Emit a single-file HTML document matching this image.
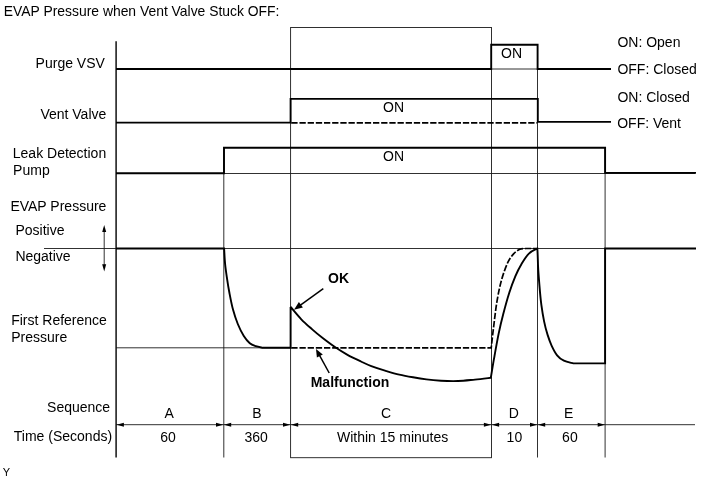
<!DOCTYPE html>
<html>
<head>
<meta charset="utf-8">
<title>EVAP Pressure when Vent Valve Stuck OFF</title>
<style>
html,body{margin:0;padding:0;background:#fff;}
body{width:711px;height:479px;overflow:hidden;}
svg{display:block;}
text{font-family:"Liberation Sans",Arial,Helvetica,sans-serif;font-size:14px;fill:#000;}
.b{font-weight:bold;}
.thin{stroke:#1a1a1a;stroke-width:0.9;fill:none;}
.thick{stroke:#000;stroke-width:1.9;fill:none;stroke-linejoin:miter;stroke-miterlimit:2;}
.arr{stroke:#000;stroke-width:1.5;fill:none;}
.dash{stroke:#000;stroke-width:1.7;fill:none;stroke-dasharray:6.3 1.87;}
</style>
</head>
<body>
<svg width="711" height="479" viewBox="0 0 711 479">
<rect x="0" y="0" width="711" height="479" fill="#fff"/>


<!-- thin guide lines -->
<g class="thin">
<rect x="290.6" y="27.5" width="200.9" height="430.2"/>
<line x1="223.8" y1="147" x2="223.8" y2="457.5"/>
<line x1="537.5" y1="45" x2="537.5" y2="457.5"/>
<line x1="605.1" y1="147" x2="605.1" y2="457.5"/>
<line x1="44" y1="248.5" x2="695" y2="248.5"/>
<line x1="116" y1="347.8" x2="290" y2="347.8"/>
<line x1="116" y1="173.5" x2="695" y2="173.5"/>
<line x1="116" y1="69" x2="611" y2="69"/>
<line x1="116" y1="424.7" x2="695" y2="424.7"/>
<line x1="104.2" y1="228" x2="104.2" y2="268"/>
</g>

<!-- vertical axis -->
<line x1="116.1" y1="41.2" x2="116.1" y2="457.5" stroke="#111" stroke-width="1.5"/>

<!-- Purge VSV -->
<path class="thick" d="M116,69 H491.2 V44.8 H537.6 V69 H611"/>
<!-- Vent Valve -->
<path class="thick" d="M116,122.6 H290.6 V98.9 H537.8 V121.9 H611"/>
<path class="dash" d="M291.3,122.9 H537"/>
<!-- Leak Detection Pump -->
<path class="thick" d="M116,173.2 H224 V147.7 H605.1 V172.9 H696"/>

<!-- EVAP Pressure curves -->
<path class="thick" d="M116,248.5 H224.1 C224.3,251.1 224.6,259.0 225.1,264.0 C225.6,269.0 226.3,273.6 227.0,278.4 C227.7,283.2 228.4,287.6 229.4,292.8 C230.4,298.0 231.6,304.4 233.0,309.6 C234.4,314.8 236.0,319.6 237.8,324.0 C239.6,328.4 241.8,332.8 243.8,336.0 C245.8,339.2 247.8,341.5 249.8,343.2 C251.8,344.9 253.6,345.4 255.8,346.2 C258.0,347.0 261.8,347.5 263.0,347.8 H290.6 V306.9 C292.4,309.0 297.7,315.6 301.3,319.3 C304.9,323.1 308.6,326.2 312.2,329.4 C315.8,332.6 319.1,335.3 323.0,338.3 C326.9,341.3 331.2,344.6 335.3,347.3 C339.4,350.1 343.2,352.4 347.5,354.8 C351.8,357.2 357.0,359.6 361.0,361.5 C365.0,363.4 367.3,364.6 371.3,366.1 C375.3,367.6 380.3,369.2 385.0,370.6 C389.7,372.0 394.6,373.5 399.3,374.6 C404.0,375.7 408.5,376.5 413.0,377.3 C417.5,378.1 421.7,378.8 426.4,379.4 C431.1,380.0 435.7,380.4 441.0,380.7 C446.3,381.0 452.3,381.2 458.0,381.0 C463.7,380.8 469.5,380.1 475.0,379.6 C480.5,379.1 488.2,378.1 490.8,377.8 C491.4,374.5 492.8,365.5 494.1,358.2 C495.4,350.9 497.1,341.2 498.6,333.9 C500.1,326.6 501.4,321.0 503.2,314.2 C505.0,307.4 507.2,299.3 509.2,293.0 C511.2,286.7 513.3,281.2 515.3,276.4 C517.3,271.6 519.1,268.0 521.4,264.2 C523.7,260.4 526.2,256.2 528.9,253.6 C531.5,251.0 535.9,249.3 537.3,248.5 C537.7,251.6 537.8,260.8 538.1,267.1 C538.4,273.4 539.0,279.8 539.5,286.1 C540.0,292.4 540.6,299.2 541.4,305.1 C542.2,311.0 543.1,316.4 544.1,321.4 C545.1,326.4 546.3,330.8 547.6,334.9 C548.9,339.0 550.1,342.4 551.7,345.8 C553.3,349.2 555.1,352.8 557.1,355.3 C559.1,357.8 561.2,359.4 563.9,360.7 C566.6,362.0 571.8,362.9 573.4,363.4 H605.1 V248.5 H696"/>
<path class="dash" d="M291.3,347.8 H491.2 C491.6,344.5 492.5,335.8 493.5,327.9 C494.5,320.0 495.7,308.7 497.1,300.6 C498.5,292.5 499.9,285.7 501.7,279.4 C503.5,273.1 505.7,267.0 507.7,262.7 C509.7,258.4 511.8,255.8 513.8,253.6 C515.8,251.4 517.8,250.2 519.8,249.3 C521.8,248.5 524.9,248.6 525.9,248.5 H537"/>

<!-- positive / negative arrow heads -->
<path d="M104.2,224.9 L106.2,232 H102.2 Z" fill="#000"/>
<path d="M104.2,271.4 L106.2,264.3 H102.2 Z" fill="#000"/>

<!-- sequence arrow heads -->
<g fill="#000"><path d="M116.6,424.7 l7.3,-2 v4 z"/><path d="M223.3,424.7 l-7.3,-2 v4 z"/><path d="M223.9,424.7 l7.3,-2 v4 z"/><path d="M290.3,424.7 l-7.3,-2 v4 z"/><path d="M290.9,424.7 l7.3,-2 v4 z"/><path d="M491.2,424.7 l-7.3,-2 v4 z"/><path d="M491.8,424.7 l7.3,-2 v4 z"/><path d="M537.3,424.7 l-7.3,-2 v4 z"/><path d="M537.9,424.7 l7.3,-2 v4 z"/><path d="M605.0,424.7 l-7.3,-2 v4 z"/></g>

<!-- OK / Malfunction pointers -->
<line class="arr" x1="323.3" y1="288.7" x2="300.1" y2="305.3"/><path d="M294.0,309.7 L298.9,302.0 L302.9,307.5 Z" fill="#000"/>
<line class="arr" x1="329.2" y1="373.0" x2="319.4" y2="355.1"/><path d="M316.0,349.0 L322.8,354.4 L316.9,357.6 Z" fill="#000"/>

<!-- labels -->
<text x="3.8" y="15.9" style="font-size:13.9px">EVAP Pressure when Vent Valve Stuck OFF:</text>
<text x="35.6" y="67.7">Purge VSV</text>
<text x="40.4" y="118.7">Vent Valve</text>
<text x="12.8" y="157.8">Leak Detection</text>
<text x="13.1" y="174.6">Pump</text>
<text x="10.4" y="210.5">EVAP Pressure</text>
<text x="15.5" y="234.7">Positive</text>
<text x="15.4" y="261.3">Negative</text>
<text x="11.2" y="324.9">First Reference</text>
<text x="11.2" y="341.8">Pressure</text>
<text x="47.1" y="411.9">Sequence</text>
<text x="13.8" y="440.9">Time (Seconds)</text>
<text x="617.4" y="47.2">ON: Open</text>
<text x="617.4" y="73.6">OFF: Closed</text>
<text x="617.4" y="101.6">ON: Closed</text>
<text x="617.2" y="127.6">OFF: Vent</text>
<text x="501.1" y="57.7">ON</text>
<text x="383.0" y="111.9">ON</text>
<text x="383.0" y="161.0">ON</text>
<text x="328.1" y="282.7" style="font-weight:bold">OK</text>
<text x="310.7" y="386.7" style="font-weight:bold">Malfunction</text>
<text x="164.5" y="417.7">A</text>
<text x="252.3" y="417.7">B</text>
<text x="381.1" y="417.7">C</text>
<text x="508.7" y="417.7">D</text>
<text x="564.1" y="417.7">E</text>
<text x="160.2" y="441.8">60</text>
<text x="244.4" y="441.8">360</text>
<text x="337.0" y="441.8">Within 15 minutes</text>
<text x="506.6" y="441.8">10</text>
<text x="562.1" y="441.8">60</text>
<text x="2.8" y="476.0" style="font-size:11px">Y</text>

</svg>
</body>
</html>
